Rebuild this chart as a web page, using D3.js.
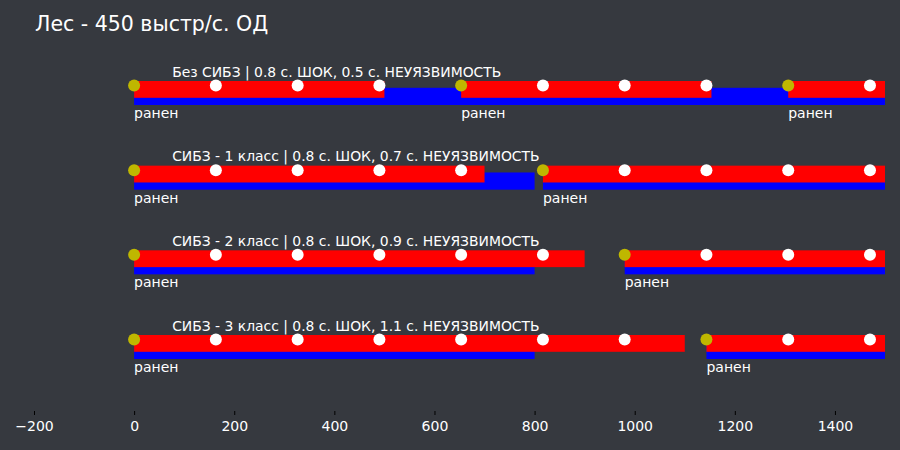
<!DOCTYPE html>
<html><head><meta charset="utf-8">
<script src="https://cdn.jsdelivr.net/npm/d3@7"></script>
<style>body{margin:0;background:#36393f;}svg{display:block;}</style>
</head><body>
<svg id="c" width="900" height="450"></svg>
<script>
const title = "Лес - 450 выстр/с. ОД";
const rowLabels = [
  "Без СИБЗ | 0.8 с. ШОК, 0.5 с. НЕУЯЗВИМОСТЬ",
  "СИБЗ - 1 класс | 0.8 с. ШОК, 0.7 с. НЕУЯЗВИМОСТЬ",
  "СИБЗ - 2 класс | 0.8 с. ШОК, 0.9 с. НЕУЯЗВИМОСТЬ",
  "СИБЗ - 3 класс | 0.8 с. ШОК, 1.1 с. НЕУЯЗВИМОСТЬ"
];
const hitTimes = [0, 163.3, 326.7, 490, 653.3, 816.7, 980, 1143.3, 1306.7, 1470];
const shockMs = [800, 800, 800, 800];
const invulnMs = [500, 700, 900, 1100];
const woundedHits = [
  [0, 653.3, 1306.7],
  [0, 816.7],
  [0, 980],
  [0, 1143.3]
];
const woundLabel = "ранен";
const xTicks = [-200, 0, 200, 400, 600, 800, 1000, 1200, 1400];

const svg = d3.select("#c");
const x = d3.scaleLinear().domain([-200, 1500]).range([34, 885]);
const y = d3.scaleLinear().domain([0, 3]).range([85.5, 339.5]);
const font = "DejaVu Sans, sans-serif";

svg.append("defs").append("clipPath").attr("id","clip")
  .append("rect").attr("x", x(-200)).attr("y", 0).attr("width", x(1500)-x(-200)).attr("height", 410);

svg.append("text").attr("x", 35).attr("y", 31).attr("fill", "#ffffff")
  .style("font-family", font).style("font-size", "20.5px").text(title);

const plot = svg.append("g").attr("clip-path", "url(#clip)");

rowLabels.forEach((lab, i) => {
  const cy = y(i);
  const g = plot.append("g");
  g.selectAll("rect.b").data(woundedHits[i]).join("rect").attr("class","b")
    .attr("x", d => x(d)).attr("width", d => x(d + shockMs[i]) - x(d))
    .attr("y", cy + 2.3).attr("height", 17.2).attr("fill", "#0000ff");
  g.selectAll("rect.r").data(woundedHits[i]).join("rect").attr("class","r")
    .attr("x", d => x(d)).attr("width", d => x(d + invulnMs[i]) - x(d))
    .attr("y", cy - 4.5).attr("height", 16.8).attr("fill", "#ff0000");
  g.selectAll("circle").data(hitTimes).join("circle")
    .attr("cx", d => x(d)).attr("cy", cy).attr("r", 6)
    .attr("fill", d => woundedHits[i].includes(d) ? "#bfb700" : "#ffffff");
  g.selectAll("text.w").data(woundedHits[i]).join("text").attr("class","w")
    .attr("x", d => x(d)).attr("y", cy + 32.5).attr("fill", "#ffffff")
    .style("font-family", font).style("font-size", "14px").text(woundLabel);
  svg.append("text").attr("x", x(76)).attr("y", cy - 9).attr("fill", "#ffffff")
    .style("font-family", font).style("font-size", "13.9px").text(lab);
});

const axis = d3.axisBottom(x).tickValues(xTicks).tickSize(4).tickPadding(6.5)
  .tickFormat(d => d < 0 ? "\u2212" + Math.abs(d) : String(d));
const ax = svg.append("g").attr("transform", "translate(0,411)").call(axis);
ax.select(".domain").remove();
ax.selectAll(".tick line").attr("stroke", "#000000");
ax.selectAll(".tick text").attr("fill", "#ffffff").style("font-family", font).style("font-size", "14px");
</script>
</body></html>
